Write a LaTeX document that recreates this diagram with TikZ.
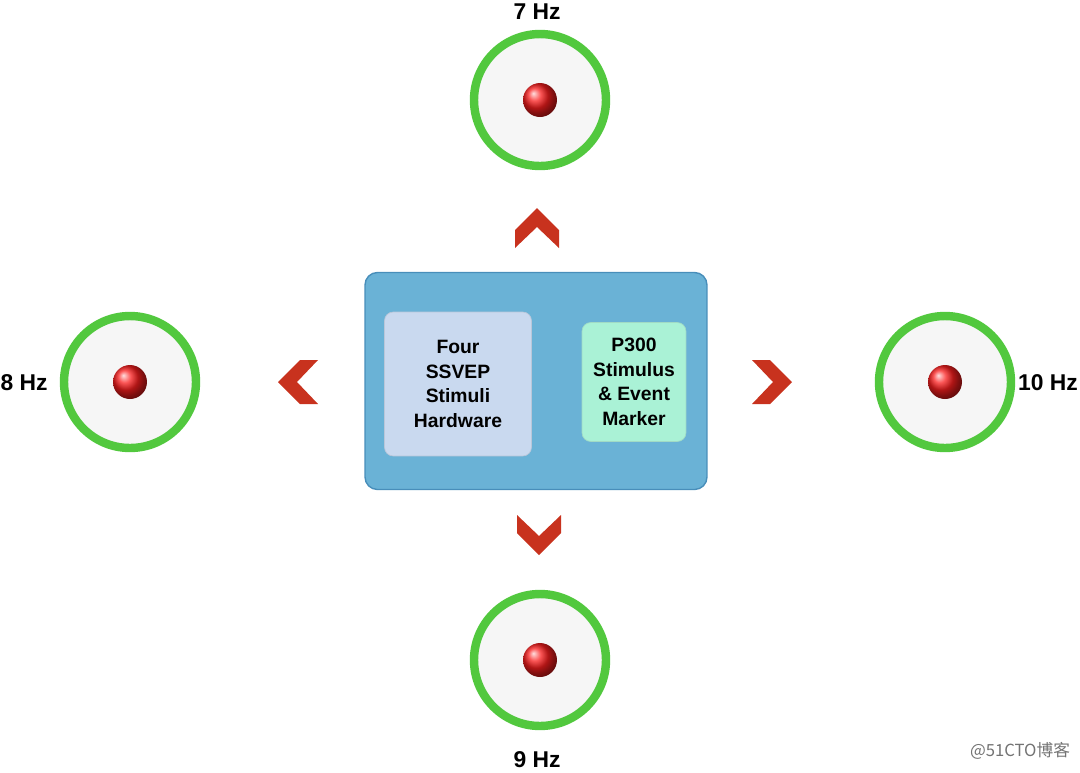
\documentclass[tikz,border=0pt]{standalone}
\usepackage{fontspec}
\setmainfont{Liberation Sans}
\newfontfamily\cjkfont{Noto Sans CJK SC}
\usepackage{tikz}
\usetikzlibrary{positioning,calc,shapes}
\definecolor{ringgreen}{RGB}{82,200,62}
\definecolor{chevred}{RGB}{200,50,30}
\definecolor{dotred}{RGB}{250,30,30}
\definecolor{panelblue}{RGB}{106,178,214}
\definecolor{panelline}{RGB}{72,142,186}
\definecolor{hwfill}{RGB}{201,217,239}
\definecolor{pfill}{RGB}{170,242,214}
\tikzset{
  stim/.style={circle, draw=ringgreen, line width=4.8pt, fill=gray!7, minimum size=2.64cm},
  reddot/.style={circle, ball color=dotred, minimum size=0.68cm, inner sep=0pt},
  freq/.style={font=\bfseries\fontsize{13}{15}\selectfont},
  innerbox/.style={rounded corners=5pt, align=center, inner sep=0pt, font=\bfseries\fontsize{11}{14}\selectfont}
}

\begin{document}
\begin{tikzpicture}[x=0.02cm,y=-0.02cm]
\useasboundingbox (0,0) rectangle (1080,772);
% stimuli
\node[stim] (s7) at (540,100) {};
\node[stim] (s8) at (130,382) {};
\node[stim] (s10) at (945,382) {};
\node[stim] (s9) at (540,660) {};
\node[reddot] (d7) at (s7) {};
\node[reddot] (d8) at (s8) {};
\node[reddot] (d10) at (s10) {};
\node[reddot] (d9) at (s9) {};
\node[freq] (f7) at (537,12) {7 Hz};
\node[freq] (f8) at (24,383) {8 Hz};
\node[freq] (f10) at (1048,383) {10 Hz};
\node[freq] (f9) at (537,760) {9 Hz};
% central panel
\node[draw=panelline, fill=panelblue, line width=0.8pt, rounded corners=7pt, minimum width=6.84cm, minimum height=4.34cm] (panel) at (536,381) {};
\node[innerbox, draw=hwfill!80!gray, fill=hwfill, minimum width=2.94cm, minimum height=2.88cm] (hw) at (458,384) {Four\\SSVEP\\Stimuli\\Hardware};
\node[innerbox, draw=pfill!80!gray, fill=pfill, minimum width=2.08cm, minimum height=2.38cm] (p300) at (634,382) {P300\\Stimulus\\\& Event\\Marker};
% chevrons
\foreach \ang/\cx/\cy in {0/537/228, 90/298/382, -90/772/382, 180/539/535}
  \fill[chevred, shift={(\cx,\cy)}, rotate=\ang] (-22,20) -- (-22,2) -- (0,-20) -- (22,2) -- (22,20) -- (0,-1) -- cycle;
\node[text=gray!90!black, font=\cjkfont\fontsize{9.5}{11}\selectfont] (wm) at (1020,751) {@51CTO博客};
\end{tikzpicture}
\end{document}
